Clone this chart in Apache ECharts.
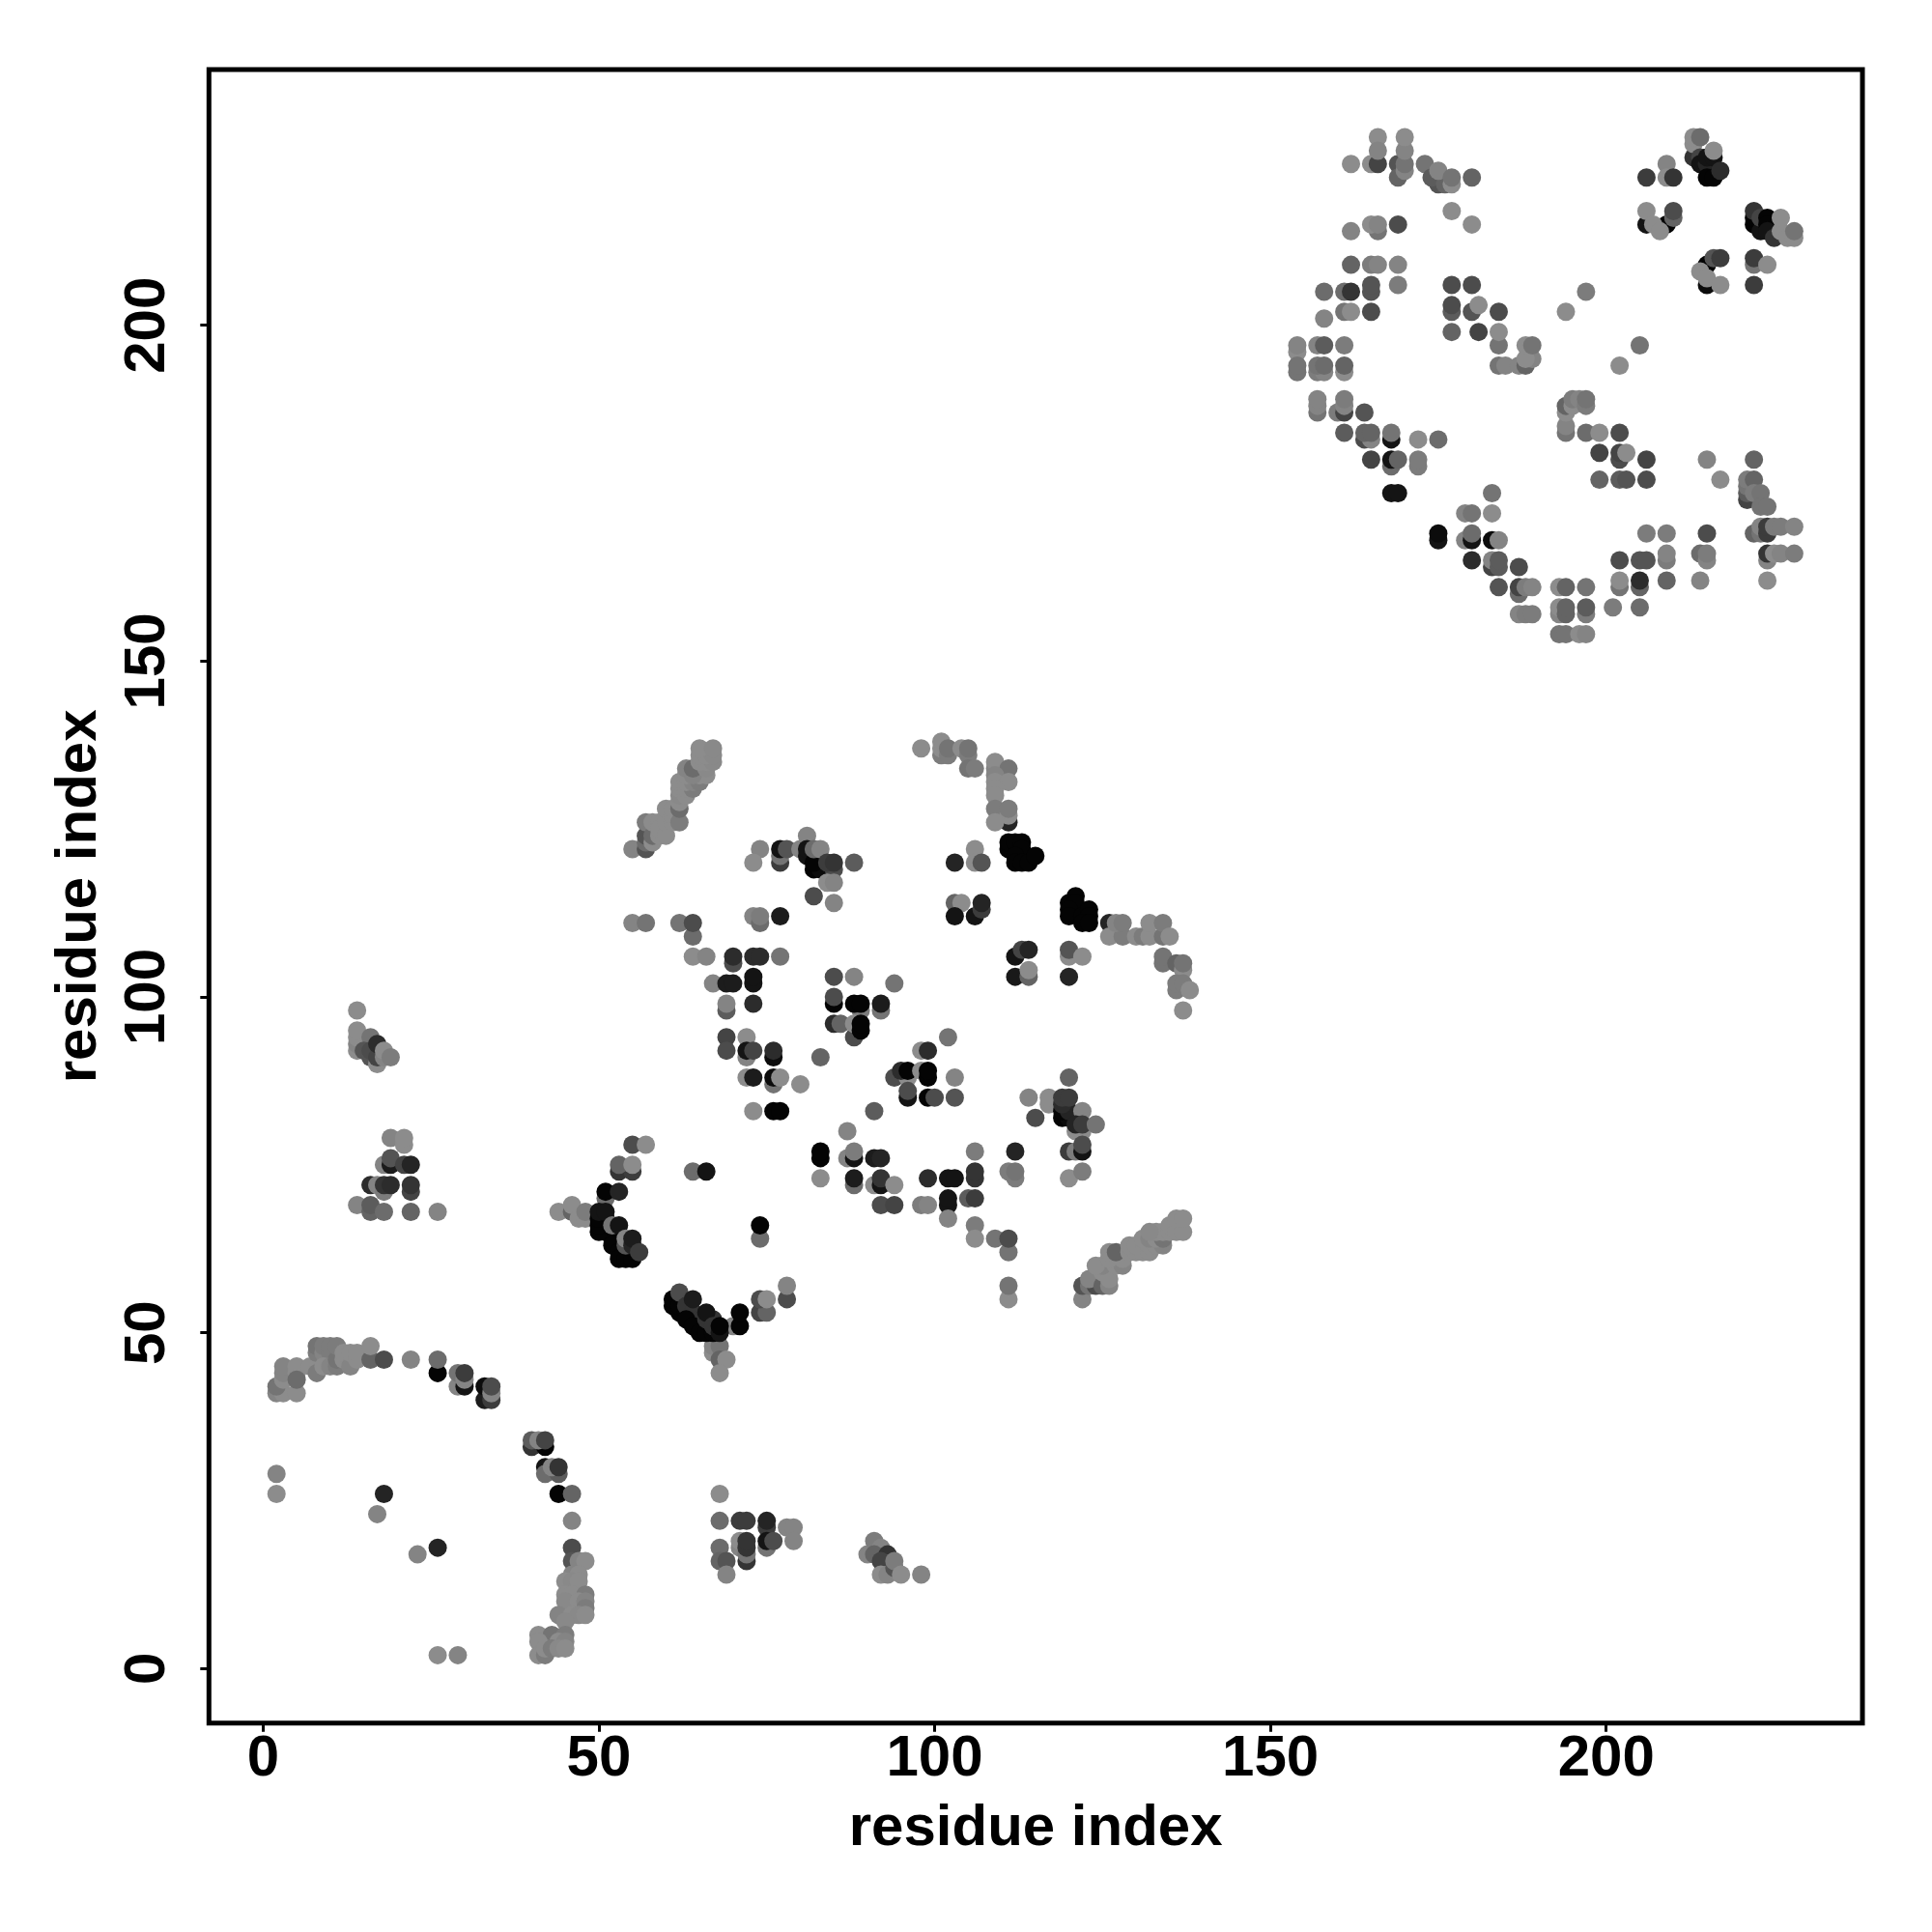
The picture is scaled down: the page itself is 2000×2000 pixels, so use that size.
<!DOCTYPE html>
<html><head><meta charset="utf-8">
<style>html,body{margin:0;background:#fff}#c{width:2000px;height:2000px}</style>
<script src="https://cdn.jsdelivr.net/npm/echarts@6/dist/echarts.min.js"></script>
</head><body><div id="c"></div>
<script>
// Each point: [residue i, residue j, grey level of the contact]
const topArc=[[162,224,0x88],[165,224,0x88],[166,224,0x40],[166,228,0x88],[166,226,0x80],[169,224,0x50],[169,222,0x60],[170,223,0x80],[170,224,0x70],[170,226,0x80],[170,228,0x88],[173,224,0x70],[175,221,0x50],[174,222,0x58],[176,221,0x60],[175,223,0x80],[177,221,0x88],[177,222,0x70],[180,222,0x60],[177,217,0x88],[180,215,0x88],[162,214,0x80],[166,214,0x70],[165,215,0x88],[166,215,0x80],[169,215,0x48],[162,209,0x60],[165,209,0x78],[166,209,0x80],[169,209,0x80],[158,205,0x68],[161,205,0x68],[162,205,0x30],[165,205,0x50],[165,206,0x50],[169,206,0x78],[158,201,0x80],[161,202,0x70],[162,202,0x88],[165,202,0x48]];
const topMiddle=[[177,206,0x48],[180,206,0x48],[177,202,0x58],[177,203,0x48],[180,202,0x50],[181,203,0x88],[184,202,0x48],[177,199,0x60],[181,199,0x40],[184,197,0x70],[184,199,0x88],[184,194,0x70],[185,194,0x80],[187,194,0x80],[188,194,0x60],[189,195,0x80],[188,195,0x88],[188,197,0x88],[189,197,0x70],[197,205,0x78],[194,202,0x88],[205,197,0x70],[202,194,0x88]];
const topRight=[[206,222,0x38],[209,224,0x80],[209,222,0x88],[210,222,0x30],[213,225,0x30],[213,227,0x88],[213,228,0x88],[214,228,0x68],[214,225,0x40],[214,224,0x10],[215,224,0x20],[215,222,0x00],[216,222,0x00],[215,225,0x10],[216,225,0x10],[217,223,0x28],[216,226,0x88],[206,215,0x10],[206,217,0x88],[209,215,0x00],[207,215,0x88],[208,214,0x88],[210,216,0x60],[210,217,0x48],[222,215,0x00],[222,216,0x00],[223,214,0x10],[222,217,0x30],[223,216,0x40],[224,216,0x00],[224,215,0x00],[224,214,0x10],[225,213,0x30],[226,214,0x88],[226,216,0x88],[227,213,0x88],[228,213,0x88],[228,214,0x70],[215,206,0x08],[215,209,0x00],[214,208,0x88],[215,207,0x88],[217,206,0x88],[216,210,0x50],[217,210,0x38],[222,209,0x70],[222,210,0x38],[224,209,0x88],[222,206,0x38]];
const leftArc=[[154,196,0x88],[154,197,0x80],[157,197,0x80],[158,197,0x58],[161,197,0x78],[154,193,0x70],[154,194,0x70],[157,193,0x78],[158,193,0x80],[157,194,0x70],[158,194,0x68],[161,193,0x88],[161,194,0x60],[157,187,0x70],[157,188,0x80],[157,189,0x80],[160,187,0x78],[161,187,0x40],[161,188,0x80],[161,189,0x78],[164,187,0x50],[161,184,0x58],[164,183,0x48],[165,183,0x80],[164,184,0x60],[165,184,0x60],[168,183,0x10],[168,184,0x70],[172,183,0x88],[175,183,0x68],[165,180,0x40],[168,179,0x68],[168,180,0x10],[169,180,0x60],[172,179,0x78],[172,180,0x78],[168,175,0x10],[169,175,0x10]];
const bottomArc=[[183,175,0x70],[179,172,0x80],[180,172,0x70],[183,172,0x88],[175,168,0x10],[175,169,0x08],[179,168,0x80],[180,168,0x10],[180,169,0x68],[183,168,0x08],[184,168,0x80],[180,165,0x28],[183,164,0x40],[183,165,0x80],[184,164,0x58],[184,165,0x58],[187,164,0x48],[184,161,0x50],[187,160,0x68],[187,161,0x40],[188,161,0x78],[189,161,0x80],[187,157,0x80],[188,157,0x78],[189,157,0x78],[193,161,0x88],[194,161,0x60],[197,161,0x70],[193,157,0x80],[193,158,0x88],[194,157,0x60],[194,158,0x60],[197,157,0x78],[197,158,0x58],[193,154,0x70],[194,154,0x70],[196,154,0x88],[197,154,0x80]];
const bottomRight=[[202,161,0x70],[202,162,0x88],[201,158,0x78],[205,158,0x68],[205,161,0x60],[205,162,0x28],[202,165,0x48],[205,165,0x50],[206,165,0x50],[209,165,0x78],[209,166,0x80],[206,169,0x78],[209,169,0x78],[209,162,0x60],[214,166,0x68],[215,165,0x80],[215,166,0x78],[214,162,0x80],[215,169,0x48],[224,162,0x88],[224,165,0x80],[224,166,0x30],[225,166,0x88],[226,166,0x80],[228,166,0x78],[222,169,0x60],[223,169,0x70],[223,170,0x80],[224,169,0x38],[224,170,0x38],[225,170,0x78],[226,170,0x78],[228,170,0x80],[221,174,0x40],[221,175,0x58],[221,176,0x70],[221,177,0x78],[222,177,0x60],[222,175,0x78],[223,175,0x70],[223,173,0x70],[224,173,0x70],[222,180,0x60],[215,180,0x80],[217,177,0x88]];
const centerStrand=[[194,184,0x70],[194,185,0x80],[194,187,0x88],[194,188,0x60],[195,188,0x88],[195,189,0x78],[196,189,0x80],[197,188,0x78],[197,189,0x70],[197,184,0x68],[199,184,0x88],[202,184,0x48],[199,181,0x40],[202,180,0x48],[202,181,0x40],[203,181,0x88],[206,180,0x40],[199,177,0x60],[202,177,0x58],[203,177,0x50],[206,177,0x48]];
const upperStrand=[[55,122,0x80],[57,122,0x50],[57,123,0x68],[57,124,0x50],[58,123,0x88],[57,126,0x78],[58,124,0x68],[58,126,0x88],[59,124,0x88],[59,126,0x88],[59,125,0x88],[60,124,0x88],[60,126,0x88],[60,128,0x88],[61,126,0x88],[61,127,0x88],[61,128,0x88],[62,126,0x78],[62,128,0x68],[62,129,0x88],[62,130,0x85],[62,131,0x88],[62,132,0x88],[63,130,0x88],[63,131,0x88],[64,131,0x78],[63,132,0x88],[64,132,0x80],[65,132,0x78],[63,133,0x88],[65,133,0x88],[66,133,0x88],[63,134,0x80],[64,133,0x80],[64,134,0x68],[66,134,0x85],[65,135,0x88],[66,135,0x88],[67,135,0x85],[65,136,0x88],[66,136,0x88],[67,136,0x85],[65,137,0x88],[67,137,0x85]];
const helixA=[[74,122,0x80],[73,120,0x88],[77,120,0x38],[77,121,0x70],[77,122,0x10],[78,122,0x50],[81,124,0x80],[80,122,0x80],[81,121,0x10],[81,122,0x10],[82,119,0x00],[83,119,0x08],[82,120,0x00],[82,122,0x68],[83,122,0x80],[85,119,0x48],[84,120,0x38],[85,120,0x30],[84,117,0x88],[85,117,0x80],[82,115,0x48],[85,114,0x80],[88,120,0x58]];
const helixB=[[98,137,0x88],[101,136,0x78],[101,137,0x88],[101,138,0x88],[102,136,0x78],[102,137,0x70],[104,137,0x88],[105,136,0x78],[105,137,0x70],[105,134,0x70],[106,134,0x78],[109,134,0x80],[109,135,0x88],[111,134,0x70],[109,133,0x80],[109,132,0x88],[111,132,0x88],[109,131,0x88],[109,130,0x88],[109,128,0x78],[111,126,0x20],[111,127,0x88],[111,128,0x78],[109,126,0x88]];
const helixC=[[113,121,0x70],[112,122,0x70],[111,122,0x00],[111,123,0x00],[112,123,0x00],[113,123,0x00],[113,122,0x00],[112,121,0x00],[112,120,0x00],[113,120,0x00],[114,120,0x00],[115,121,0x00],[106,122,0x88],[106,120,0x88],[103,120,0x20],[107,120,0x50],[103,114,0x60],[104,114,0x88],[103,112,0x10],[106,112,0x10],[107,113,0x38],[107,114,0x20]];
const helixD=[[121,113,0x70],[121,115,0x00],[120,114,0x00],[121,114,0x00],[120,113,0x00],[120,112,0x00],[122,112,0x00],[123,113,0x00],[123,112,0x00],[122,111,0x00],[123,111,0x00],[126,111,0x20],[126,109,0x88],[128,109,0x78],[127,111,0x80],[128,111,0x78],[130,109,0x88],[131,109,0x78],[132,109,0x88],[134,109,0x70],[132,111,0x88],[134,111,0x78],[135,109,0x88],[134,105,0x70],[134,106,0x70],[136,105,0x60],[137,104,0x88],[137,105,0x70],[136,101,0x78],[136,102,0x78],[137,102,0x78],[138,101,0x88],[137,98,0x88],[112,106,0x10],[113,107,0x40],[114,107,0x20],[112,103,0x15],[114,103,0x60],[114,104,0x88],[120,106,0x88],[120,107,0x50],[122,106,0x88],[120,103,0x20]];
const midLeft=[[55,111,0x80],[57,111,0x70],[62,111,0x70],[64,109,0x68],[64,111,0x48],[64,106,0x88],[66,106,0x80],[70,105,0x48],[70,106,0x28],[73,106,0x28],[74,106,0x28],[77,106,0x70],[73,112,0x80],[74,111,0x68],[74,112,0x78],[77,112,0x18],[67,102,0x80],[69,102,0x18],[70,102,0x18],[73,102,0x10],[73,103,0x10],[69,98,0x58],[69,99,0x80],[73,99,0x28]];
const midCore=[[85,103,0x48],[88,103,0x80],[94,102,0x70],[85,99,0x00],[85,100,0x48],[89,98,0x78],[88,99,0x00],[89,99,0x00],[92,98,0x70],[92,99,0x18],[69,94,0x40],[69,92,0x48],[72,91,0x80],[72,94,0x88],[72,92,0x10],[73,92,0x40],[76,91,0x08],[76,92,0x28],[76,87,0x70],[72,88,0x88],[73,88,0x18],[76,88,0x08],[77,88,0x88],[80,87,0x88],[73,83,0x88],[76,83,0x00],[77,83,0x00],[83,91,0x60],[85,96,0x28],[86,96,0x60],[88,94,0x48],[88,96,0x88],[89,95,0x00],[89,96,0x00]];
const midRight=[[102,94,0x70],[98,92,0x88],[99,92,0x28],[94,88,0x48],[96,88,0x88],[95,89,0x28],[96,89,0x00],[98,89,0x88],[99,88,0x00],[99,89,0x00],[103,88,0x80],[96,85,0x10],[96,86,0x48],[99,85,0x00],[100,85,0x48],[103,85,0x50],[91,83,0x58],[87,80,0x80],[83,76,0x00],[83,77,0x00],[87,76,0x80],[88,76,0x10],[88,77,0x78],[91,76,0x18],[92,76,0x20],[83,73,0x88],[88,72,0x68],[88,73,0x18],[91,72,0x88],[92,72,0x10],[92,73,0x30],[94,72,0x88],[92,69,0x48],[94,69,0x40],[98,69,0x78],[99,69,0x80],[99,73,0x28],[102,73,0x10],[103,73,0x10],[102,69,0x10],[102,70,0x10],[105,70,0x58],[106,70,0x38],[106,73,0x30],[106,74,0x30],[106,77,0x78],[102,67,0x80],[112,77,0x20],[111,74,0x78],[112,73,0x78],[112,74,0x70]];
const lowerStrand=[[106,66,0x78],[106,64,0x88],[109,64,0x70],[111,62,0x70],[111,64,0x48],[111,55,0x88],[111,57,0x70],[122,55,0x80],[122,57,0x50],[123,57,0x70],[124,57,0x48],[123,58,0x80],[125,57,0x60],[126,57,0x80],[125,59,0x88],[126,58,0x88],[125,60,0x80],[124,60,0x88],[127,60,0x88],[128,60,0x80],[126,61,0x88],[128,61,0x88],[126,62,0x88],[127,62,0x60],[129,62,0x88],[130,62,0x88],[129,63,0x88],[130,63,0x88],[131,62,0x88],[132,62,0x88],[132,63,0x88],[131,64,0x88],[133,63,0x88],[134,63,0x80],[132,64,0x80],[133,64,0x88],[134,64,0x70],[133,65,0x88],[134,65,0x88],[132,65,0x85],[135,65,0x88],[135,66,0x88],[136,65,0x88],[137,65,0x88],[136,67,0x88],[137,67,0x88]];
const rightKnot=[[120,88,0x60],[114,85,0x80],[117,84,0x88],[117,85,0x88],[115,82,0x48],[119,82,0x00],[120,82,0x08],[119,83,0x00],[120,83,0x20],[119,84,0x28],[119,85,0x38],[120,85,0x38],[122,83,0x80],[121,80,0x88],[122,80,0x88],[121,81,0x20],[122,81,0x38],[124,81,0x70],[120,77,0x38],[121,77,0x78],[122,77,0x10],[122,78,0x48],[120,73,0x88],[122,74,0x78]];
const vStrand=[[55,78,0x48],[57,78,0x88],[53,74,0x30],[55,74,0x38],[53,75,0x60],[55,75,0x88],[51,70,0x68],[51,71,0x00],[53,71,0x20],[44,68,0x88],[46,68,0x60],[46,69,0x88],[47,67,0x88],[48,67,0x88],[48,68,0x78],[51,65,0x00],[52,64,0x00],[53,63,0x00],[54,62,0x00],[51,66,0x00],[51,67,0x00],[52,65,0x00],[50,65,0x00],[50,66,0x00],[50,67,0x00],[50,68,0x10],[51,68,0x10],[52,66,0x70],[53,66,0x10],[52,63,0x00],[53,62,0x00],[53,61,0x00],[54,61,0x00],[55,61,0x00],[54,63,0x50],[54,64,0x80],[55,63,0x20],[55,64,0x18],[56,62,0x38],[64,74,0x68],[66,74,0x10],[74,64,0x68],[74,66,0x00],[78,55,0x48],[78,57,0x80],[74,53,0x40],[75,53,0x60],[74,55,0x48],[75,55,0x88]];
const vBottom=[[67,47,0x88],[67,48,0x80],[68,48,0x70],[68,46,0x60],[69,46,0x88],[68,44,0x88],[61,54,0x00],[61,55,0x00],[62,53,0x00],[62,54,0x00],[63,53,0x00],[62,56,0x48],[64,52,0x00],[65,51,0x00],[66,51,0x00],[63,54,0x30],[64,53,0x30],[65,52,0x30],[64,55,0x18],[63,52,0x00],[64,51,0x00],[65,50,0x00],[66,50,0x00],[67,50,0x00],[66,52,0x30],[67,52,0x30],[66,53,0x10],[67,51,0x30],[70,51,0x80],[68,50,0x10],[68,51,0x00],[71,51,0x00],[71,53,0x00]];
const lowerArc=[[2,41,0x80],[3,41,0x88],[5,41,0x88],[2,42,0x70],[3,43,0x88],[3,44,0x80],[3,45,0x80],[5,44,0x88],[5,45,0x88],[5,43,0x68],[7,45,0x88],[8,44,0x78],[8,47,0x78],[8,48,0x70],[9,47,0x80],[9,48,0x78],[10,47,0x78],[10,48,0x78],[9,45,0x88],[10,45,0x80],[11,45,0x78],[11,46,0x70],[11,48,0x78],[12,46,0x88],[12,47,0x88],[13,45,0x80],[13,47,0x88],[14,46,0x88],[14,47,0x88],[16,46,0x60],[16,48,0x88],[18,46,0x48],[22,46,0x80],[26,44,0x00],[26,46,0x68],[29,42,0x80],[30,42,0x10],[29,44,0x70],[30,43,0x80],[30,44,0x38],[33,40,0x18],[33,42,0x08],[34,40,0x38],[34,41,0x80],[34,42,0x48]];
const rightColumn=[[40,33,0x30],[42,33,0x00],[40,34,0x58],[41,34,0x80],[42,34,0x40],[42,30,0x10],[42,29,0x68],[44,29,0x58],[43,30,0x80],[44,30,0x30],[44,26,0x00],[46,26,0x60],[46,22,0x80],[46,18,0x48],[46,16,0x50],[47,16,0x80],[48,16,0x88],[46,14,0x80],[47,14,0x88],[45,13,0x88],[46,13,0x85],[47,13,0x88],[45,11,0x88],[46,11,0x88],[48,11,0x78],[45,10,0x85],[47,10,0x88],[48,10,0x80],[48,9,0x78],[44,8,0x80],[46,8,0x88],[47,8,0x85],[48,8,0x88],[45,7,0x85],[41,5,0x88],[43,5,0x70],[45,5,0x78],[41,4,0x88],[44,4,0x88],[45,4,0x80],[41,2,0x88],[42,2,0x78],[42,3,0x88],[43,3,0x78],[44,3,0x85],[45,3,0x88]];
const lonePoints=[[2,29,0x80],[2,26,0x88],[18,26,0x20],[17,23,0x80],[26,18,0x20],[23,17,0x80],[26,2,0x88],[29,2,0x80]];
const lowerPatch=[[68,26,0x88],[68,22,0x68],[71,22,0x38],[72,22,0x38],[75,21,0x38],[75,22,0x20],[78,21,0x80],[79,21,0x80],[79,19,0x80],[68,18,0x68],[68,16,0x60],[69,16,0x50],[69,14,0x80],[71,18,0x80],[71,19,0x88],[72,16,0x30],[72,17,0x70],[72,18,0x30],[72,19,0x30],[75,18,0x70],[75,19,0x10],[76,19,0x48],[90,17,0x80],[91,19,0x78],[92,18,0x80],[91,17,0x60],[93,17,0x30],[92,16,0x40],[92,14,0x88],[93,14,0x80],[94,15,0x50],[94,16,0x78],[95,14,0x88],[98,14,0x80]];
const upperLeft=[[14,98,0x88],[14,92,0x88],[14,93,0x80],[14,94,0x88],[14,95,0x88],[16,94,0x70],[15,92,0x50],[16,91,0x50],[16,92,0x48],[17,90,0x88],[17,91,0x40],[17,93,0x28],[18,91,0x80],[18,92,0x88],[19,91,0x78],[19,79,0x80],[21,78,0x88],[21,79,0x88],[18,75,0x80],[19,75,0x18],[19,76,0x50],[21,75,0x40],[22,75,0x20],[16,72,0x28],[17,72,0x80],[18,71,0x78],[18,72,0x30],[19,72,0x28],[22,71,0x40],[22,72,0x30],[14,69,0x80],[16,68,0x60],[16,69,0x58],[18,68,0x68],[22,68,0x60],[26,68,0x80]];
const xTicks=[0,50,100,150,200];
const yTicks=[0,50,100,150,200];

const points=[].concat(lonePoints,upperLeft,lowerArc,rightColumn,lowerPatch,vStrand,vBottom,upperStrand,midLeft,helixA,helixB,helixC,helixD,midCore,midRight,rightKnot,lowerStrand,topArc,topMiddle,topRight,leftArc,bottomArc,bottomRight,centerStrand);
const font='"Liberation Sans", Arial, sans-serif';
function axis(min,max,ticks,gap,margin,rotate){return {
  type:'value',min,max,name:'residue index',nameLocation:'middle',nameGap:gap,
  nameTextStyle:{fontFamily:font,fontWeight:'bold',fontSize:60,color:'#000'},
  splitLine:{show:false},axisLine:{show:false,onZero:false},
  axisTick:{show:true,length:9,inside:false,customValues:ticks,lineStyle:{color:'#000',width:3}},
  axisLabel:{show:true,customValues:ticks,rotate,margin,hideOverlap:false,fontFamily:font,fontWeight:'bold',fontSize:60,color:'#000'}
};}
const chart=echarts.init(document.getElementById('c'),null,{renderer:'canvas'});
chart.setOption({
  animation:false,backgroundColor:'#fff',
  grid:{left:216.3,top:72,width:1711.7,height:1711.7,show:true,borderColor:'#000',borderWidth:5,backgroundColor:'transparent'},
  xAxis:axis(-8.06,238.16,xTicks,80,8,0),
  yAxis:axis(-8.11,238.07,yTicks,104,33,90),
  series:[{type:'scatter',data:points,symbol:'circle',symbolSize:19,silent:true,
    encode:{x:0,y:1},
    itemStyle:{opacity:1,color:p=>{const g=p.data[2]+4;return `rgb(${g},${g},${g})`;}}}]
});
</script></body></html>
